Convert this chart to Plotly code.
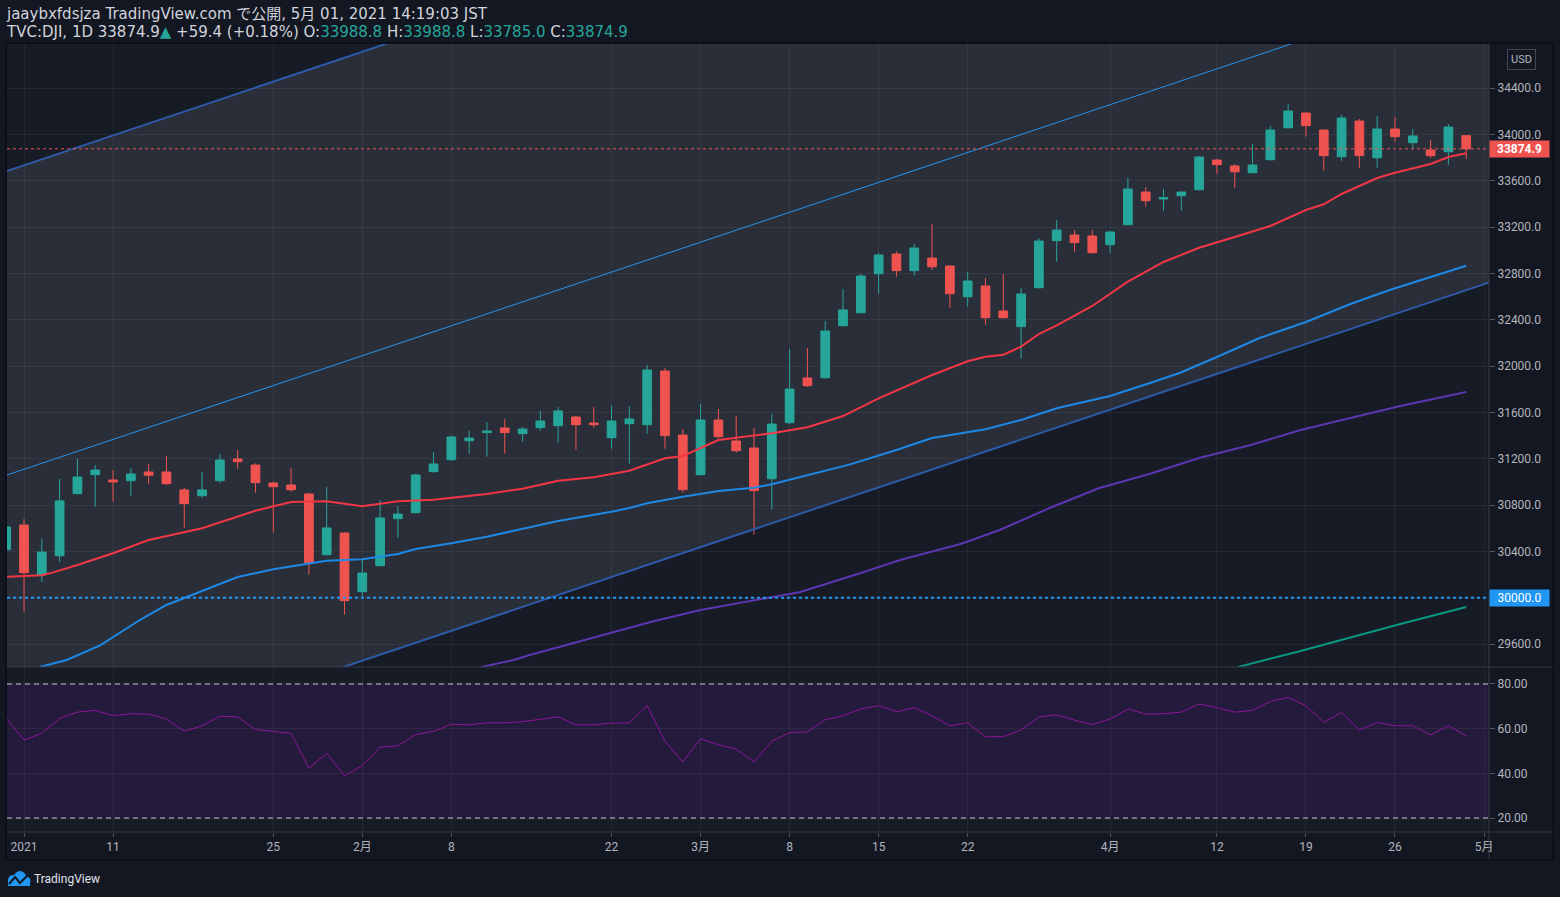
import plotly.graph_objects as go

# ---------------- data ----------------
dates = ["2020-12-31",
         "2021-01-04", "2021-01-05", "2021-01-06", "2021-01-07", "2021-01-08", "2021-01-11", "2021-01-12",
         "2021-01-13", "2021-01-14", "2021-01-15", "2021-01-19", "2021-01-20", "2021-01-21", "2021-01-22",
         "2021-01-25", "2021-01-26", "2021-01-27", "2021-01-28", "2021-01-29",
         "2021-02-01", "2021-02-02", "2021-02-03", "2021-02-04", "2021-02-05", "2021-02-08", "2021-02-09",
         "2021-02-10", "2021-02-11", "2021-02-12", "2021-02-16", "2021-02-17", "2021-02-18", "2021-02-19",
         "2021-02-22", "2021-02-23", "2021-02-24", "2021-02-25", "2021-02-26",
         "2021-03-01", "2021-03-02", "2021-03-03", "2021-03-04", "2021-03-05", "2021-03-08", "2021-03-09",
         "2021-03-10", "2021-03-11", "2021-03-12", "2021-03-15", "2021-03-16", "2021-03-17", "2021-03-18",
         "2021-03-19", "2021-03-22", "2021-03-23", "2021-03-24", "2021-03-25", "2021-03-26", "2021-03-29",
         "2021-03-30", "2021-03-31",
         "2021-04-01", "2021-04-05", "2021-04-06", "2021-04-07", "2021-04-08", "2021-04-09", "2021-04-12",
         "2021-04-13", "2021-04-14", "2021-04-15", "2021-04-16", "2021-04-19", "2021-04-20", "2021-04-21",
         "2021-04-22", "2021-04-23", "2021-04-26", "2021-04-27", "2021-04-28", "2021-04-29", "2021-04-30"]

opens = [30414, 30627, 30198, 30362, 30898, 31062, 31016, 31010, 31085, 31085,
         30930, 30880, 31010, 31197, 31145, 30990, 30973, 30895, 30371, 30558,
         30052, 30276, 30682, 30734, 31088, 31191, 31355, 31425, 31465, 31416,
         31468, 31485, 31560, 31508, 31381, 31502, 31493, 31957, 31404, 31062,
         31534, 31353, 31292, 31027, 31511, 31897, 31899, 32348, 32460, 32797,
         32967, 32823, 32932, 32863, 32598, 32691, 32475, 32340, 32676, 33082,
         33131, 33122, 33047, 33220, 33502, 33442, 33470, 33522, 33778, 33727,
         33669, 33781, 34057, 34184, 34037, 33807, 34115, 33798, 34046, 33928,
         33865, 33850, 33988.8]
highs = [30637, 30679, 30507, 31025, 31197, 31145, 31102, 31119, 31154, 31223,
         30947, 31085, 31240, 31275, 31160, 31000, 31119, 30905, 30955, 30565,
         30334, 30843, 30791, 31070, 31257, 31400, 31439, 31517, 31543, 31474,
         31612, 31646, 31570, 31646, 31655, 31655, 32009, 31983, 31456, 31672,
         31629, 31569, 31465, 31586, 32147, 32155, 32389, 32665, 32794, 32976,
         32990, 33053, 33226, 32870, 32812, 32760, 32794, 32673, 33105, 33260,
         33174, 33174, 33166, 33623, 33545, 33528, 33490, 33813, 33787, 33744,
         33917, 34072, 34262, 34190, 34040, 34167, 34132, 34158, 34150, 34046,
         33951, 34089, 33988.8]
lows = [30400, 29879, 30138, 30311, 30890, 30786, 30829, 30880, 30984, 30976,
        30604, 30863, 30993, 31113, 30906, 30561, 30915, 30198, 30365, 29853,
        30009, 30270, 30518, 30725, 31079, 31180, 31243, 31217, 31243, 31347,
        31442, 31338, 31278, 31467, 31286, 31157, 31416, 31286, 30906, 31055,
        31373, 31252, 30544, 30760, 31500, 31820, 31890, 32340, 32455, 32624,
        32771, 32780, 32831, 32503, 32512, 32357, 32410, 32063, 32670, 32900,
        32987, 32970, 32978, 33215, 33376, 33341, 33341, 33515, 33660, 33539,
        33665, 33775, 34050, 33980, 33686, 33772, 33712, 33712, 33936, 33871,
        33798, 33738, 33785.0]
closes = [30610, 30216, 30394, 30835, 31042, 31102, 30999, 31068, 31057, 30984,
          30812, 30930, 31188, 31174, 30993, 30958, 30932, 30302, 30602, 29974,
          30213, 30688, 30722, 31059, 31154, 31387, 31378, 31439, 31425, 31456,
          31525, 31612, 31493, 31493, 31525, 31543, 31966, 31398, 30932, 31534,
          31390, 31269, 30924, 31499, 31801, 31830, 32302, 32484, 32777, 32958,
          32823, 33019, 32857, 32624, 32734, 32417, 32417, 32622, 33079, 33174,
          33065, 32978, 33157, 33528, 33427, 33453, 33502, 33804, 33738, 33677,
          33735, 34037, 34201, 34075, 33816, 34141, 33816, 34046, 33980, 33986,
          33816, 34063, 33874.9]

rsi = [64.7, 54.9, 57.9, 64.6, 67.4, 68.2, 65.8, 66.7, 66.5, 64.3,
       58.9, 61.3, 65.6, 65.2, 59.6, 58.6, 57.9, 42.3, 49.0, 38.9,
       43.5, 51.7, 52.3, 57.4, 58.8, 62.0, 61.7, 62.6, 62.6, 63.1,
       64.3, 65.3, 61.7, 61.7, 62.5, 62.6, 70.3, 54.4, 45.1, 55.5,
       52.8, 50.8, 45.1, 54.3, 58.2, 58.6, 64.0, 65.8, 68.8, 70.3,
       67.6, 69.4, 65.8, 61.3, 62.6, 56.4, 56.4, 59.4, 65.2, 66.2,
       63.8, 61.9, 64.3, 68.8, 66.5, 66.7, 67.4, 71.0, 69.4, 67.4,
       68.2, 72.2, 74.0, 70.3, 62.9, 67.3, 59.4, 62.8, 61.3, 61.3,
       57.1, 61.3, 56.7]

# moving averages (candle position, value)
ma20_pos = [0, 2, 2.6, 4, 6, 8, 11, 14, 16, 18, 20, 22, 24, 27, 29, 31, 33, 35, 37, 38, 40, 42, 43,
            45, 47, 49, 52, 54, 55, 56, 57, 58, 59, 61, 63, 65, 67, 69, 71, 73, 74, 75, 77, 78, 80, 81, 82]
ma20_val = [30181, 30193, 30216, 30282, 30383, 30498, 30599, 30751, 30826, 30832, 30789, 30832, 30846,
            30895, 30941, 31010, 31039, 31096, 31203, 31223, 31361, 31396, 31419, 31471, 31568, 31721,
            31922, 32041, 32080, 32098, 32167, 32276, 32351, 32518, 32728, 32898, 33021, 33114, 33209,
            33347, 33396, 33485, 33623, 33669, 33744, 33804, 33836]
ma50_pos = [1.9, 3.4, 5.3, 7.5, 9, 11, 13, 15, 17, 18, 20, 22, 23, 25, 27, 31, 34, 35, 36, 38, 40, 42,
            43, 45, 47.4, 50, 52, 55, 57, 59, 62, 64.2, 65.9, 68, 70.4, 73, 75.5, 77.7, 82]
ma50_val = [29402, 29462, 29591, 29807, 29937, 30060, 30178, 30245, 30297, 30319, 30331, 30377, 30420,
            30469, 30526, 30662, 30742, 30774, 30815, 30872, 30921, 30949, 30979, 31056, 31151, 31275,
            31378, 31454, 31534, 31635, 31741, 31851, 31940, 32078, 32242, 32380, 32535, 32656, 32866]
ma100_pos = [26.7, 28.5, 29.4, 33.4, 36.2, 39, 42.3, 44.6, 48, 50.2, 53.6, 55.8, 58.6, 61.4, 64.2,
             67, 69.9, 72.7, 75.5, 78.3, 82]
ma100_val = [29402, 29462, 29505, 29669, 29790, 29894, 29989, 30049, 30213, 30325, 30463, 30584, 30774,
             30947, 31068, 31206, 31318, 31448, 31551, 31655, 31776]
ma200_pos = [69.2, 72.7, 78.3, 82]
ma200_val = [29402, 29540, 29773, 29919]

# parallel channel (drawing)
channel_pos = [0, 84]
channel_upper = [33681, 38015]
channel_median = [31057, 35391]
channel_lower = [28424, 32758]

hline_levels = [30000.0]
last_price = 33874.9

time_tick_pos = [1, 6, 15, 20, 25, 34, 39, 44, 49, 54, 62, 68, 73, 78, 83]
time_tick_text = ["2021", "11", "25", "2月", "8", "22", "3月", "8", "15", "22", "4月", "12", "19", "26", "5月"]
price_ticks = [29600, 30000, 30400, 30800, 31200, 31600, 32000, 32400, 32800, 33200, 33600, 34000, 34400]
rsi_ticks = [20, 40, 60, 80]

# ---------------- styling ----------------
BG = "#131722"
PANE = "#171b26"
GRID = "rgba(255,255,255,0.055)"
TXT = "#b2b5be"
UP = "#26a69a"
DOWN = "#ef5350"
FONT = "Roboto, 'Noto Sans CJK JP', sans-serif"
HFONT = "'DejaVu Sans', 'Noto Sans CJK JP', sans-serif"

W, H = 1560, 897
L, R, T, B = 7, 71, 44, 65
PW = W - L - R
PH = H - T - B


def px(x):
    return (x - L) / PW


def py(y):
    return (H - B - y) / PH


xpos = list(range(len(dates)))

fig = go.Figure()

# channel lines
fig.add_trace(go.Scatter(x=channel_pos, y=channel_upper, mode="lines",
                         line=dict(color="#2d5aa6", width=2), hoverinfo="skip", yaxis="y"))
fig.add_trace(go.Scatter(x=channel_pos, y=channel_lower, mode="lines",
                         line=dict(color="#2d5aa6", width=2), hoverinfo="skip", yaxis="y"))
fig.add_trace(go.Scatter(x=channel_pos, y=channel_median, mode="lines",
                         line=dict(color="#2196f3", width=1), hoverinfo="skip", yaxis="y"))

# candles
fig.add_trace(go.Candlestick(
    x=xpos, open=opens, high=highs, low=lows, close=closes,
    increasing=dict(line=dict(color=UP, width=1), fillcolor=UP),
    decreasing=dict(line=dict(color=DOWN, width=1), fillcolor=DOWN),
    whiskerwidth=0, hoverinfo="skip", yaxis="y"))

# moving averages
fig.add_trace(go.Scatter(x=ma200_pos, y=ma200_val, mode="lines",
                         line=dict(color="#089981", width=2), hoverinfo="skip", yaxis="y"))
fig.add_trace(go.Scatter(x=ma100_pos, y=ma100_val, mode="lines",
                         line=dict(color="#5e35b1", width=2), hoverinfo="skip", yaxis="y"))
fig.add_trace(go.Scatter(x=ma50_pos, y=ma50_val, mode="lines",
                         line=dict(color="#1e88e5", width=2), hoverinfo="skip", yaxis="y"))
fig.add_trace(go.Scatter(x=ma20_pos, y=ma20_val, mode="lines",
                         line=dict(color="#f23645", width=2), hoverinfo="skip", yaxis="y"))

# RSI
fig.add_trace(go.Scatter(x=xpos, y=rsi, mode="lines",
                         line=dict(color="#8e1599", width=1), hoverinfo="skip", yaxis="y2"))

shapes = []
# channel fill (below gridlines)
path = "M {0},{1} L {2},{3} L {2},{4} L {0},{5} Z".format(
    channel_pos[0], channel_upper[0], channel_pos[1], channel_upper[1], channel_lower[1], channel_lower[0])
shapes.append(dict(type="path", path=path, xref="x", yref="y", layer="below",
                   fillcolor="rgba(120,123,134,0.2)", line=dict(width=0)))
# RSI band
shapes.append(dict(type="rect", xref="paper", x0=0, x1=1, yref="y2", y0=rsi_ticks[0], y1=rsi_ticks[-1],
                   layer="below", fillcolor="rgba(153,21,255,0.1)", line=dict(width=0)))
for lv in (rsi_ticks[0], rsi_ticks[-1]):
    shapes.append(dict(type="line", xref="paper", x0=0, x1=1, yref="y2", y0=lv, y1=lv,
                       line=dict(color="#c3c6ce", width=1, dash="5px,4px")))
# horizontal level & last price lines
for lv in hline_levels:
    shapes.append(dict(type="line", xref="paper", x0=0, x1=1, yref="y", y0=lv, y1=lv,
                       line=dict(color="#2196f3", width=2, dash="dot")))
shapes.append(dict(type="line", xref="paper", x0=0, x1=1, yref="y", y0=last_price, y1=last_price,
                   line=dict(color=DOWN, width=1, dash="dot")))
# separators & frame
SEP = "#363a45"
shapes.append(dict(type="line", xref="paper", yref="paper", x0=px(7), x1=px(1553), y0=py(667), y1=py(667),
                   line=dict(color=SEP, width=1)))
shapes.append(dict(type="line", xref="paper", yref="paper", x0=px(7), x1=px(1553), y0=py(832), y1=py(832),
                   line=dict(color=SEP, width=1)))
shapes.append(dict(type="line", xref="paper", yref="paper", x0=px(1489), x1=px(1489), y0=py(43), y1=py(860),
                   line=dict(color=SEP, width=1)))
shapes.append(dict(type="rect", xref="paper", yref="paper", x0=px(6), x1=px(1553), y0=py(860), y1=py(43),
                   line=dict(color="#070910", width=1), fillcolor="rgba(0,0,0,0)"))
# TradingView logo (simple cloud mark)
for cx, cy, r in [(13, 880, 5), (20, 877, 6), (26, 881, 4.5)]:
    shapes.append(dict(type="circle", xref="paper", yref="paper", x0=px(cx - r), x1=px(cx + r),
                       y0=py(cy + r), y1=py(cy - r), fillcolor="#2196f3", line=dict(width=0)))
shapes.append(dict(type="rect", xref="paper", yref="paper", x0=px(8), x1=px(30), y0=py(886), y1=py(880),
                   fillcolor="#2196f3", line=dict(width=0)))
shapes.append(dict(type="path", xref="paper", yref="paper",
                   path="M {} {} L {} {} L {} {} L {} {}".format(px(9), py(884), px(15), py(877),
                                                              px(20), py(883), px(27), py(876)),
                   line=dict(color="#131722", width=2)))

annotations = []
annotations.append(dict(xref="paper", yref="paper", x=px(4), y=py(14), xanchor="left", yanchor="middle",
                        text="jaaybxfdsjza TradingView.com で公開, 5月 01, 2021 14:19:03 JST",
                        showarrow=False, font=dict(family=HFONT, size=15, color="#d1d4dc")))
g = "<span style='color:%s'>%%s</span>" % UP
line2 = ("TVC:DJI, 1D 33874.9" + g % "▲" + " +59.4 (+0.18%) O:" + g % "33988.8" + " H:" + g % "33988.8"
         + " L:" + g % "33785.0" + " C:" + g % "33874.9")
annotations.append(dict(xref="paper", yref="paper", x=px(4), y=py(32), xanchor="left", yanchor="middle",
                        text=line2, showarrow=False, font=dict(family=HFONT, size=15, color="#d1d4dc")))
# price labels on scale
annotations.append(dict(xref="paper", yref="y", x=px(1489), y=last_price, xanchor="left", yanchor="middle",
                        text="<b>33874.9</b>", showarrow=False, bgcolor=DOWN, width=57, height=14, borderpad=1,
                        font=dict(family=FONT, size=12, color="#ffffff")))
for lv in hline_levels:
    annotations.append(dict(xref="paper", yref="y", x=px(1489), y=lv, xanchor="left", yanchor="middle",
                            text="%.1f" % lv, showarrow=False, bgcolor="#2196f3", width=57, height=14,
                            borderpad=1, font=dict(family=FONT, size=12, color="#ffffff")))
annotations.append(dict(xref="paper", yref="paper", x=px(1521.5), y=py(59), xanchor="center", yanchor="middle",
                        text="USD", showarrow=False, bordercolor="#434651", borderwidth=1, borderpad=3,
                        font=dict(family=FONT, size=11, color=TXT)))
annotations.append(dict(xref="paper", yref="paper", x=px(32), y=py(879), xanchor="left", yanchor="middle",
                        text="TradingView", showarrow=False, font=dict(family=FONT, size=12, color="#e0e3eb")))

fig.update_layout(
    width=W, height=H, margin=dict(l=L, r=R, t=T, b=B),
    paper_bgcolor=BG, plot_bgcolor=PANE, showlegend=False,
    font=dict(family=FONT, size=12, color=TXT),
    shapes=shapes, annotations=annotations,
    xaxis=dict(range=[0.045, 83.28], anchor="y2", tickmode="array", tickvals=time_tick_pos,
               ticktext=time_tick_text, showgrid=True, gridcolor=GRID, gridwidth=1, zeroline=False,
               ticks="outside", ticklen=4, tickcolor="#50535e", showline=False,
               rangeslider=dict(visible=False), tickfont=dict(size=12, color=TXT, family=FONT)),
    yaxis=dict(domain=[165 / PH, 1], range=[29401.5, 34779.9], side="right", anchor="x",
               tickmode="array", tickvals=price_ticks, tickformat=".1f", showgrid=True, gridcolor=GRID,
               zeroline=False, ticks="outside", ticklen=5, tickcolor="#50535e",
               tickfont=dict(size=12, color=TXT, family=FONT)),
    yaxis2=dict(domain=[0, 164 / PH], range=[13.73, 87.16], side="right", anchor="x",
                tickmode="array", tickvals=rsi_ticks, tickformat=".2f", showgrid=True, gridcolor=GRID,
                zeroline=False, ticks="outside", ticklen=5, tickcolor="#50535e",
                tickfont=dict(size=12, color=TXT, family=FONT)),
)

fig.write_html("out.html", config={"displayModeBar": False},
               post_script="document.body.style.margin='0';document.body.style.background='#131722';"
                           "document.body.style.overflow='hidden';")
